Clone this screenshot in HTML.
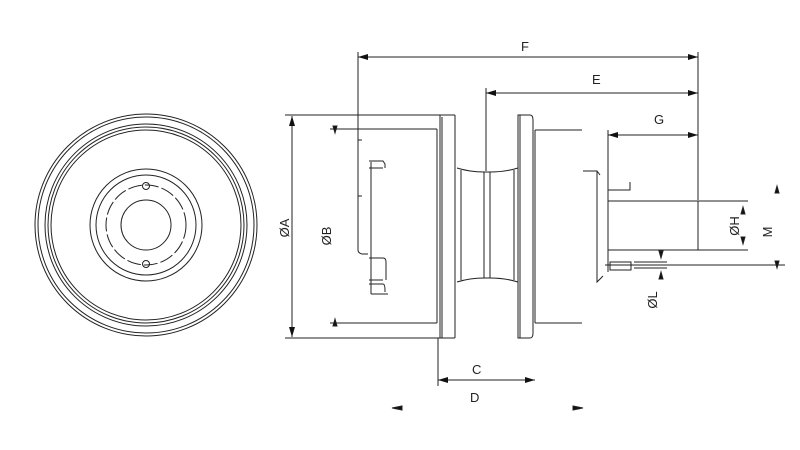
<!DOCTYPE html>
<html><head><meta charset="utf-8"><style>
html,body{margin:0;padding:0;background:#fff;}
svg{display:block}
text{font-family:"Liberation Sans",sans-serif;font-size:13px;fill:#222}
</style></head><body>
<svg width="800" height="450" viewBox="0 0 800 450" xmlns="http://www.w3.org/2000/svg">
<defs>
<marker id="a" viewBox="0 0 10 6" refX="10" refY="3" markerWidth="10" markerHeight="6" orient="auto-start-reverse" markerUnits="userSpaceOnUse"><path d="M0,0 L10,3 L0,6 Z" fill="#111"/></marker>
</defs>
<g fill="none" stroke="#222" stroke-width="1">
<circle cx="146" cy="225" r="111"/>
<circle cx="146" cy="225" r="108"/>
<circle cx="146" cy="225" r="101"/>
<circle cx="146" cy="225" r="98"/>
<circle cx="146" cy="225" r="95"/>
<circle cx="146" cy="225" r="56"/>
<circle cx="146" cy="225" r="50"/>
<circle cx="146" cy="225" r="40" stroke-dasharray="14 3"/>
<circle cx="146" cy="225" r="25"/>
<circle cx="146" cy="186" r="3.5"/>
<circle cx="146" cy="264" r="3.5"/>

<line x1="285" y1="115" x2="455" y2="115"/>
<line x1="285" y1="338" x2="455" y2="338"/>
<line x1="292" y1="116" x2="292" y2="337" marker-start="url(#a)" marker-end="url(#a)"/>
<line x1="330" y1="129" x2="437" y2="129"/>
<line x1="330" y1="323" x2="437" y2="323"/>
<path d="M335,133 L333,126 L337,126 Z M335,319 L333,326 L337,326 Z" fill="#111"/>
<path d="M437,129 L437,323"/>
<path d="M440,115 L440,338 M442,117 L442,338 M455,115 L455,338"/>
<path d="M358,52 L358,250 Q358,253 362,254 L368,254"/>
<line x1="371" y1="162" x2="371" y2="294"/>
<path d="M369,161 L383,161 L385,164 L385,168 M369,168 L383,168 M369,258 L383,258 Q386,258 386,262 L386,280 M369,280 L383,280 M369,284 L383,284 Q385,284 385,290 L385,292 M371,294 L388,294"/>
<path d="M358,140 L362,140 M358,196 L362,196"/>
<path d="M457,168 Q470,172 484,172 M490,172 Q505,172 518,168"/>
<path d="M457,282 Q470,278 484,278 M490,278 Q505,278 518,282"/>
<line x1="461" y1="170" x2="461" y2="280"/>
<line x1="514" y1="170" x2="514" y2="280"/>
<rect x="484" y="172" width="6" height="106"/>
<path d="M518,115 L530,115 Q533,115 533,120 L533,333 Q533,338 530,338 L518,338 Z"/>
<line x1="520" y1="115" x2="520" y2="338"/>
<line x1="535" y1="130" x2="535" y2="323"/>
<line x1="535" y1="130" x2="582" y2="130"/>
<line x1="535" y1="323" x2="582" y2="323"/>
<path d="M583,171 L597,171 L600,175 M597,171 L597,282 L603,276"/>
<line x1="608" y1="130" x2="608" y2="272"/>
<path d="M608,190 L630,190 L630,182"/>
<rect x="608" y="201" width="90" height="49"/>
<line x1="698" y1="201" x2="748" y2="201"/>
<line x1="698" y1="250" x2="748" y2="250"/>
<line x1="605" y1="265" x2="785" y2="265"/>
<rect x="610" y="262" width="21" height="8"/>
<path d="M634,262 L667,262 M634,268 L667,268"/>
<path d="M743,207 L741,214 L745,214 Z M743,244 L741,237 L745,237 Z" fill="#111"/>
<path d="M777,186 L775,193 L779,193 Z M777,268 L775,261 L779,261 Z" fill="#111"/>
<path d="M661,258 L659,251 L663,251 Z M661,272 L659,279 L663,279 Z" fill="#111"/>
<line x1="698" y1="52" x2="698" y2="200"/>
<line x1="358" y1="57" x2="698" y2="57" marker-start="url(#a)" marker-end="url(#a)"/>
<line x1="486" y1="88" x2="486" y2="171"/>
<line x1="486" y1="93" x2="698" y2="93" marker-start="url(#a)" marker-end="url(#a)"/>
<line x1="608" y1="135" x2="698" y2="135" marker-start="url(#a)" marker-end="url(#a)"/>
<line x1="438" y1="338" x2="438" y2="386"/>
<line x1="438" y1="380" x2="535" y2="380" marker-start="url(#a)" marker-end="url(#a)"/>
<path d="M392,408 L402,406 L402,410 Z M583,408 L573,406 L573,410 Z" fill="#111"/>
</g>
<text x="521" y="51">F</text>
<text x="592" y="84">E</text>
<text x="654" y="124">G</text>
<text x="472" y="374">C</text>
<text x="470" y="402">D</text>
<text transform="translate(289,228) rotate(-90)" text-anchor="middle">ØA</text>
<text transform="translate(331,236) rotate(-90)" text-anchor="middle">ØB</text>
<text transform="translate(739,226) rotate(-90)" text-anchor="middle">ØH</text>
<text transform="translate(772,232) rotate(-90)" text-anchor="middle">M</text>
<text transform="translate(657,300) rotate(-90)" text-anchor="middle">ØL</text>
</svg>
</body></html>
